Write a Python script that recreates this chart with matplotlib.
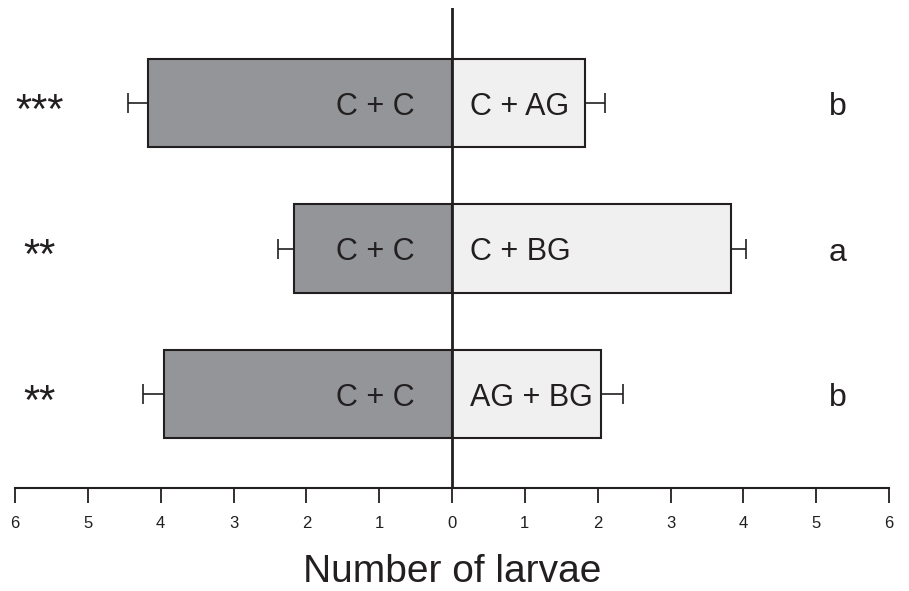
import matplotlib
matplotlib.use("Agg")
import matplotlib.pyplot as plt
import numpy as np

# data (number of larvae)
left_labels = ["C + C", "C + C", "C + C"]
right_labels = ["AG + BG", "C + BG", "C + AG"]   # bottom to top
left_vals = [3.96, 2.17, 4.18]
left_err = [0.28, 0.22, 0.27]
right_vals = [2.05, 3.83, 1.83]
right_err = [0.30, 0.21, 0.27]
stars = ["**", "**", "***"]
letters = ["b", "a", "b"]
ticks = [-6, -5, -4, -3, -2, -1, 0, 1, 2, 3, 4, 5, 6]

plt.rcParams['font.family'] = ['Liberation Sans', 'DejaVu Sans']

fig = plt.figure(figsize=(9.09, 5.91), dpi=100)
ax = fig.add_axes([15/909, 103/591, 874/909, 480/591])

y = np.arange(len(left_vals))
h = 0.605
ax.barh(y, -np.array(left_vals), height=h, color='#939598', edgecolor='#231f20', linewidth=1.5, zorder=2)
ax.barh(y, right_vals, height=h, color='#f0f0f0', edgecolor='#231f20', linewidth=1.5, zorder=2)
ax.errorbar(-np.array(left_vals), y, xerr=[left_err, [0]*3], fmt='none', ecolor='#231f20',
            elinewidth=1.2, capsize=7, capthick=1.2, zorder=1)
ax.errorbar(right_vals, y, xerr=[[0]*3, right_err], fmt='none', ecolor='#231f20',
            elinewidth=1.2, capsize=7, capthick=1.2, zorder=1)
ax.axvline(0, color='#231f20', linewidth=2, zorder=3)

for i in range(len(y)):
    ax.text(-0.51, y[i] - 0.025, left_labels[i], ha='right', va='center', fontsize=22, color='#231f20', zorder=4)
    ax.text(0.25, y[i] - 0.025, right_labels[i], ha='left', va='center', fontsize=22, color='#231f20', zorder=4)
    ax.text(-5.66, y[i] - 0.06, stars[i], ha='center', va='center', fontsize=30, color='#231f20')
    ax.text(5.3, y[i] - 0.03, letters[i], ha='center', va='center', fontsize=23, color='#231f20')

ax.set_xlim(-6, 6)
ax.set_ylim(-0.646, 2.653)
ax.set_xticks(ticks)
ax.set_xticklabels([str(abs(t)) for t in ticks], fontsize=12, color='#231f20')
ax.tick_params(axis='x', direction='out', length=11, width=1.3, color='#231f20', pad=9)
ax.set_yticks([])
for s in ['top', 'left', 'right']:
    ax.spines[s].set_visible(False)
ax.spines['bottom'].set_linewidth(1.5)
ax.spines['bottom'].set_color('#231f20')
ax.set_xlabel("Number of larvae", fontsize=28, color='#231f20', labelpad=17)

fig.savefig("out.png", dpi=100)
